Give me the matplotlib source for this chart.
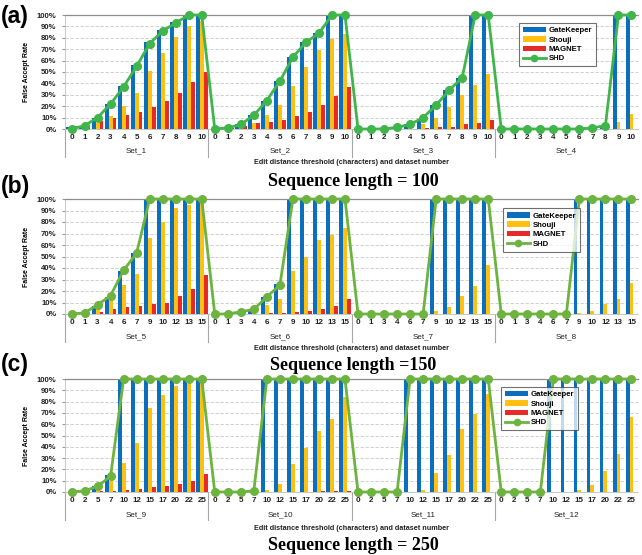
import matplotlib
matplotlib.use("Agg")
import matplotlib.pyplot as plt
import matplotlib.transforms as mtransforms
from matplotlib.lines import Line2D
from matplotlib.patches import Patch
import numpy as np

plt.rcParams['font.family'] = ['Liberation Sans', 'DejaVu Sans']

# ---------------- data ----------------
thr_a = [0, 1, 2, 3, 4, 5, 6, 7, 8, 9, 10]
thr_b = [0, 1, 3, 4, 6, 7, 9, 10, 12, 13, 15]
thr_c = [0, 2, 5, 7, 10, 12, 15, 17, 20, 22, 25]

sets_a = ["Set_1", "Set_2", "Set_3", "Set_4"]
sets_b = ["Set_5", "Set_6", "Set_7", "Set_8"]
sets_c = ["Set_9", "Set_10", "Set_11", "Set_12"]

# Panel (a): sequence length = 100
gk_a = [2, 3, 10, 22, 38, 56, 76, 87, 94, 100, 100,
        0, 1, 4, 12, 25, 42, 63, 76, 84, 100, 100,
        0, 0, 0, 1, 4, 9, 21, 34, 45, 100, 100,
        0, 0, 0, 0, 0, 0, 0, 1, 3, 100, 100]
sh_a = [1, 2, 5, 11, 20, 32, 51, 67, 81, 90, 95,
        0, 0, 1, 5, 12, 21, 38, 54, 69, 79, 83,
        0, 0, 0, 0, 1, 4, 10, 19, 30, 39, 48,
        0, 0, 0, 0, 0, 0, 0, 0, 0, 6, 13]
mg_a = [3, 3, 7, 10, 12, 15, 19, 25, 32, 41, 50,
        0, 1, 3, 5, 6, 8, 11, 15, 21, 29, 37,
        0, 0, 0, 0, 0, 1, 1.5, 2, 4, 5, 8,
        0, 0, 0, 0, 0, 0, 0, 0, 0, 0, 0]
shd_a = [0, 3, 10, 22, 37, 55, 75, 86, 93, 100, 100,
         0, 1, 4, 12, 25, 42, 63, 76, 84, 100, 100,
         0, 0, 0, 1.5, 4, 10, 21, 34, 45, 100, 100,
         0, 0, 0, 0, 0, 0, 0, 1, 3, 100, 100]

# Panel (b): sequence length = 150
gk_b = [0, 1, 7, 15, 37, 53, 100, 100, 100, 100, 100,
        0, 0, 1, 3, 15, 26, 100, 100, 100, 100, 100,
        0, 0, 0, 0, 0, 0, 100, 100, 100, 100, 100,
        0, 0, 0, 0, 0, 0, 100, 100, 100, 100, 100]
sh_b = [0, 0, 5, 12, 25, 35, 66, 80, 92, 95, 99,
        0, 0, 0, 1, 8, 13, 37, 50, 64, 69, 75,
        0, 0, 0, 0, 0, 0, 3, 6, 16, 24, 43,
        0, 0, 0, 0, 0, 0, 1, 3, 9, 13, 27]
mg_b = [0, 0, 2, 4, 6, 7, 9, 10, 16, 22, 34,
        0, 0, 0, 0, 1, 1, 2, 3, 4, 7, 13,
        0, 0, 0, 0, 0, 0, 0, 0, 0, 0, 0,
        0, 0, 0, 0, 0, 0, 0, 0, 0, 0, 0]
shd_b = [0, 1, 8, 16, 38, 53, 100, 100, 100, 100, 100,
         0, 0, 2, 4, 15, 25, 100, 100, 100, 100, 100,
         0, 0, 0, 0, 0, 0, 100, 100, 100, 100, 100,
         0, 0, 0, 0, 0, 0, 100, 100, 100, 100, 100]

# Panel (c): sequence length = 250
gk_c = [0, 0, 5, 15, 100, 100, 100, 100, 100, 100, 100,
        0, 0, 0, 0, 100, 100, 100, 100, 100, 100, 100,
        0, 0, 0, 0, 100, 100, 100, 100, 100, 100, 100,
        0, 0, 0, 0, 100, 100, 100, 100, 100, 100, 100]
sh_c = [0, 0, 3, 10, 26, 43, 74, 86, 94, 96, 99,
        0, 0, 0, 0, 2, 7, 25, 39, 54, 65, 84,
        0, 0, 0, 0, 0, 2, 17, 33, 56, 69, 87,
        0, 0, 0, 0, 0, 0, 2, 6, 19, 34, 66]
mg_c = [0, 0, 0.5, 1, 2, 3, 4, 5, 7, 10, 16,
        0, 0, 0, 0, 0, 0, 0, 0, 0.5, 0.5, 1,
        0, 0, 0, 0, 0, 0, 0, 0, 0, 0, 0,
        0, 0, 0, 0, 0, 0, 0, 0, 0, 0, 0]
shd_c = [0, 1, 5, 14, 100, 100, 100, 100, 100, 100, 100,
         0, 0, 0, 1, 100, 100, 100, 100, 100, 100, 100,
         0, 0, 0, 0, 100, 100, 100, 100, 100, 100, 100,
         0, 0, 0, 0, 100, 100, 100, 100, 100, 100, 100]

series_names = ["GateKeeper", "Shouji", "MAGNET", "SHD"]
panel_letters = ["(a)", "(b)", "(c)"]
seq_titles = ["Sequence length = 100", "Sequence length =150", "Sequence length = 250"]
xlabel_text = "Edit distance threshold (characters) and dataset number"
ylabel_text = "False Accept Rate"

# ---------------- style ----------------
C_GK = "#0B6FBE"
C_SH = "#FFC010"
C_MG = "#E52A27"
GREENS = ["#3FB54A", "#6DB33F", "#6DB33F"]

W, H = 642, 555
fig = plt.figure(figsize=(W / 100, H / 100), dpi=100)

L, R = 65, 638
boxes = [(15, 129), (199, 314), (379, 492)]
legend_anchor = [(0.792, 0.93), (0.764, 0.92), (0.761, 0.93)]
sep_end_px = [157, 342, 520]
setlab_px = [151, 337, 515]
xlab_px = [163, 348, 528]
title_px = [182, 365, 545]
letter_px = [16, 186, 364]

panels = [
    (thr_a, sets_a, gk_a, sh_a, mg_a, shd_a),
    (thr_b, sets_b, gk_b, sh_b, mg_b, shd_b),
    (thr_c, sets_c, gk_c, sh_c, mg_c, shd_c),
]

for i, (thr, sets, gk, sh, mg, shd) in enumerate(panels):
    top, bot = boxes[i]
    ax = fig.add_axes([L / W, 1 - bot / H, (R - L) / W, (bot - top) / H])
    n = len(sets) * len(thr)
    x = np.arange(n)
    bw = 0.3
    ax.bar(x - bw, np.array(gk) / 100, width=bw, color=C_GK, zorder=2)
    ax.bar(x, np.array(sh) / 100, width=bw, color=C_SH, zorder=2)
    ax.bar(x + bw, np.array(mg) / 100, width=bw, color=C_MG, zorder=2)
    ax.plot(x, np.array(shd) / 100, color=GREENS[i], lw=2.0, marker='o',
            markersize=5.5, markeredgecolor=GREENS[i], zorder=4, clip_on=False)

    ax.set_xlim(-0.5, n - 0.5)
    ax.set_ylim(0, 1)
    ax.set_yticks(np.arange(0, 1.01, 0.1))
    ax.set_yticklabels([f"{int(v)}%" for v in range(0, 101, 10)],
                       fontsize=5.6, fontweight='bold', color='#222222')
    ax.set_xticks(x)
    ax.set_xticklabels([str(t) for t in thr] * len(sets), fontsize=5.8,
                       fontweight='bold', color='#222222')
    ax.tick_params(axis='x', length=0, pad=3.5)
    ax.tick_params(axis='y', length=2, color='#999999', pad=4)
    ax.yaxis.grid(True, color='#C8C8C8', linestyle=(0, (4, 2)), linewidth=0.6, zorder=0)
    ax.set_axisbelow(True)
    ax.spines['right'].set_visible(False)
    ax.spines['top'].set_color('#8C8C8C')
    ax.spines['top'].set_linewidth(0.9)
    ax.spines['bottom'].set_color('#BFBFBF')
    ax.spines['bottom'].set_linewidth(0.6)
    ax.spines['left'].set_color('#BFBFBF')
    ax.spines['left'].set_linewidth(0.6)

    ax.set_ylabel(ylabel_text, fontsize=5.0, fontweight='bold')
    ax.yaxis.set_label_coords(-(L - 30) / (R - L), 0.5)

    trans = mtransforms.blended_transform_factory(ax.transData, ax.transAxes)
    h = bot - top
    y_end = -(sep_end_px[i] - bot) / h
    y_set = -(setlab_px[i] - bot) / h
    nt = len(thr)
    for k in range(len(sets)):
        xs = k * nt - 0.5
        ax.plot([xs, xs], [0, y_end], transform=trans, color='#A6A6A6',
                lw=0.8, clip_on=False)
        ax.text(k * nt + (nt - 1) / 2, y_set, sets[k], transform=trans,
                ha='center', va='center', fontsize=5.8, color='#222222')

    fig.text((L + R) / 2 / W, 1 - xlab_px[i] / H, xlabel_text, ha='center',
             va='center', fontsize=5.2, fontweight='bold', color='#222222')
    fig.text(353 / W, 1 - title_px[i] / H, seq_titles[i], ha='center', va='center',
             fontsize=13, fontweight='bold', family='Liberation Serif')
    fig.text(1 / W, 1 - letter_px[i] / H, panel_letters[i], ha='left', va='center',
             fontsize=16.5, fontweight='bold')

    handles = [Patch(facecolor=C_GK), Patch(facecolor=C_SH), Patch(facecolor=C_MG),
               Line2D([0], [0], color=GREENS[i], lw=2.0, marker='o', markersize=4.5)]
    leg = ax.legend(handles, series_names, loc='upper left',
                    bbox_to_anchor=legend_anchor[i], fontsize=5.6,
                    frameon=True, fancybox=False, edgecolor='#404040',
                    framealpha=0.75, handlelength=3.0, handleheight=0.7,
                    labelspacing=0.25, borderpad=0.5, handletextpad=0.3,
                    borderaxespad=0)
    leg.get_frame().set_linewidth(0.8)
    for t in leg.get_texts():
        t.set_fontweight('bold')
    leg.set_zorder(10)

fig.savefig("out.png", dpi=100)
